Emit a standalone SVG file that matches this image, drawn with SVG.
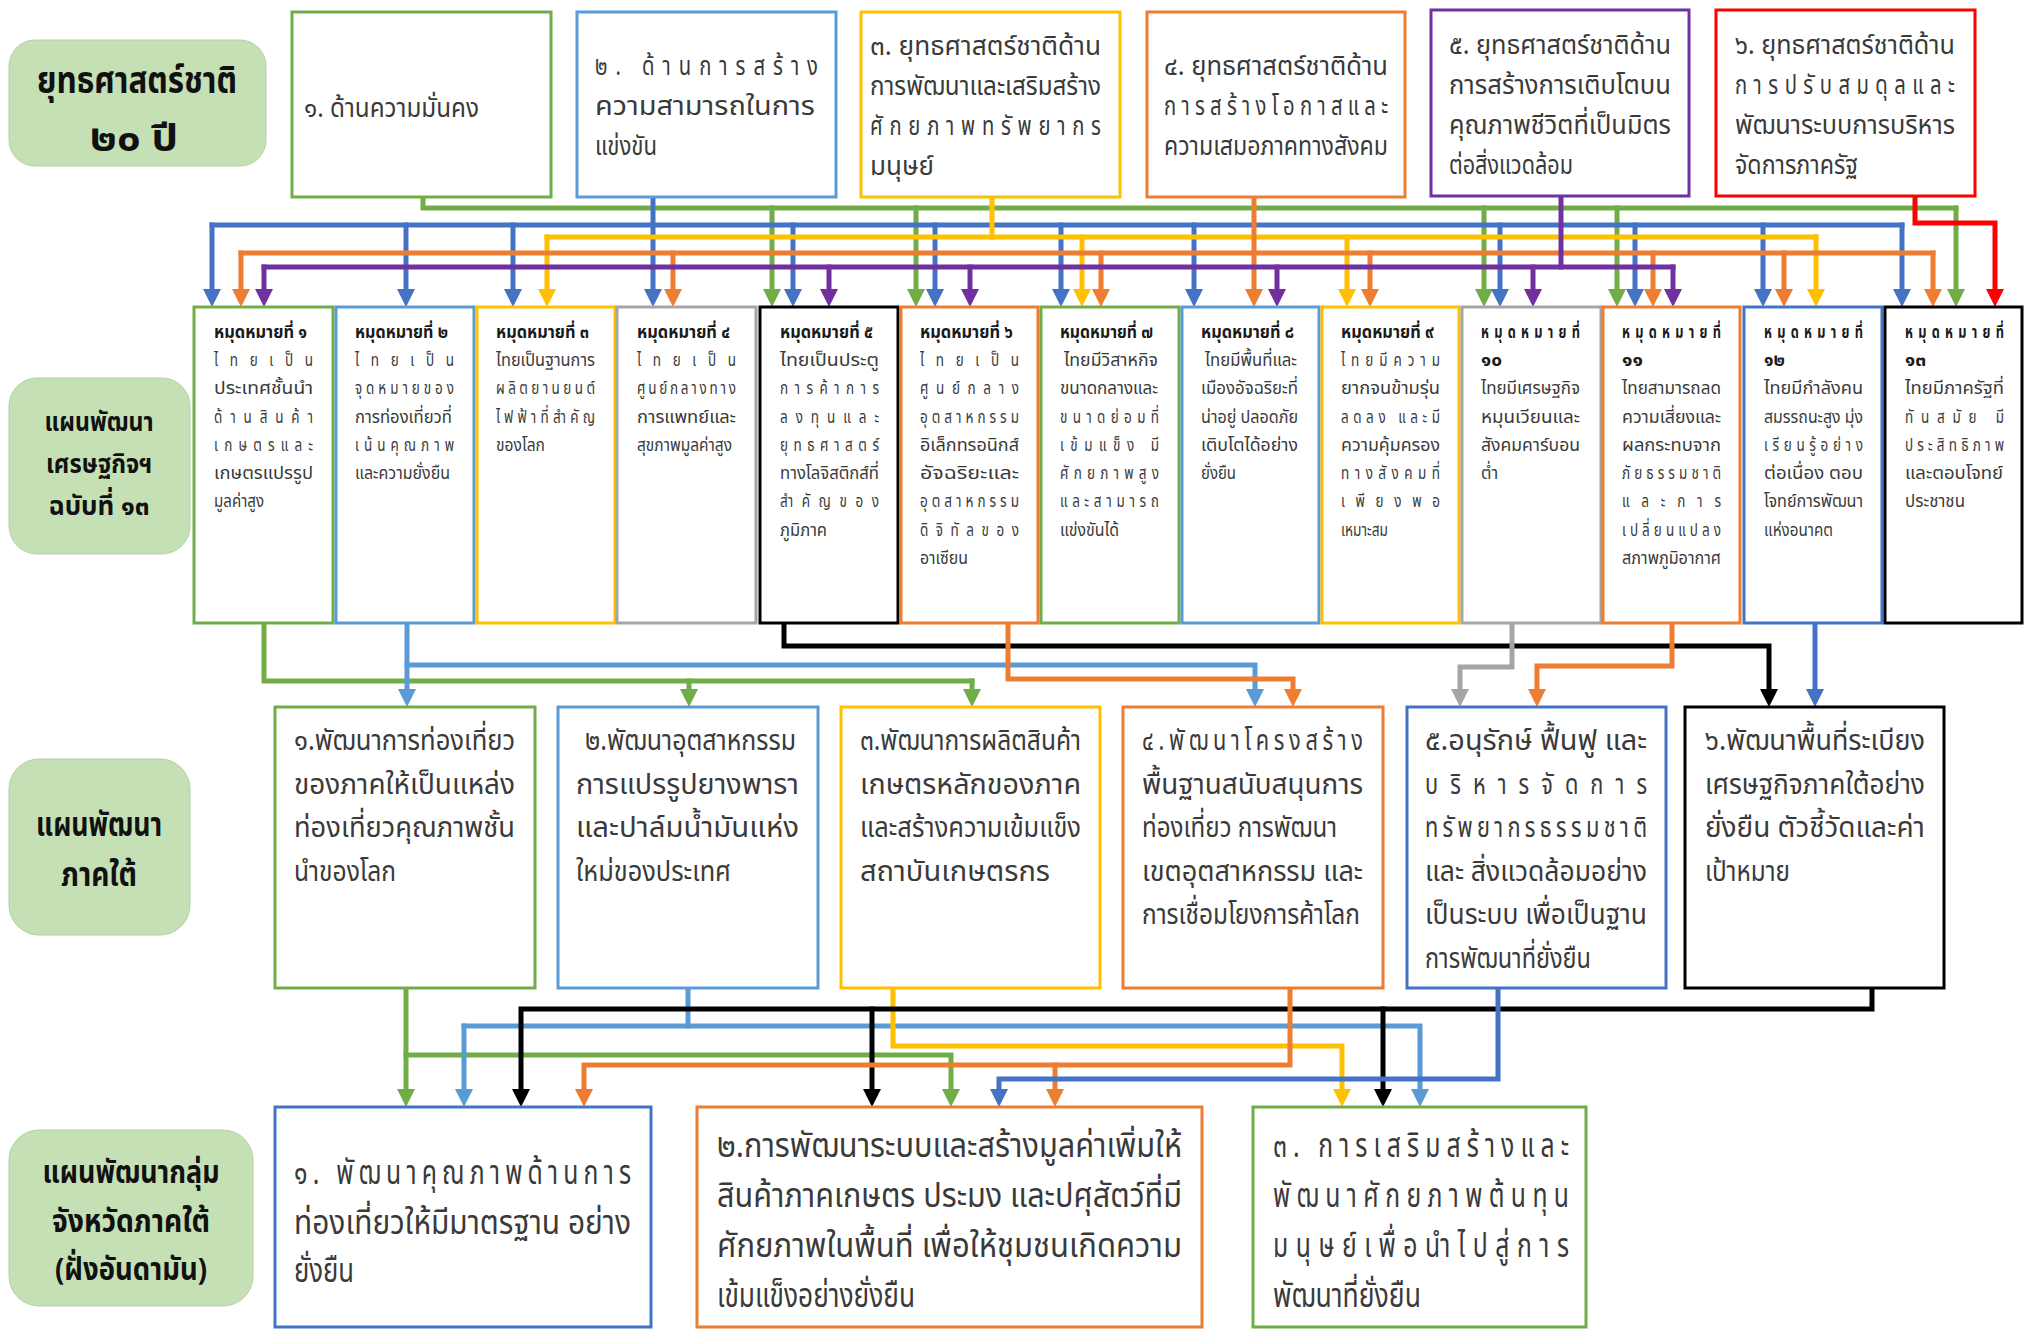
<svg xmlns="http://www.w3.org/2000/svg" width="2028" height="1329" viewBox="0 0 2028 1329">
<style>
.box{fill:#ffffff;stroke-width:3}
.lab rect{fill:#C5E0B4;stroke:#b5d0a3;stroke-width:1}
text{font-family:"Noto Sans Thai","Noto Sans Thai UI","Noto Sans","DejaVu Sans",sans-serif;fill:#3a3a3a}
.t1{font-size:27px}
.t2{font-size:18px}
.t2b{font-size:17px;font-weight:bold;fill:#1a1a1a}
.t3{font-size:29px}
.t4{font-size:33px}
.lb{font-weight:bold;fill:#111;text-anchor:middle}
#connectors path{fill:none;stroke-width:5;stroke-linecap:square}
.cg{stroke:#70AD47}.clb{stroke:#5B9BD5}.cb{stroke:#4472C4}.cy{stroke:#FFC000}.co{stroke:#ED7D31}.cp{stroke:#7030A0}.cr{stroke:#FF0000}.cgr{stroke:#A5A5A5}.ck{stroke:#000000}
</style>
<defs>
<marker id="mg" viewBox="0 0 18 18" refX="8" refY="9" markerWidth="18" markerHeight="18" markerUnits="userSpaceOnUse" orient="auto"><path d="M0,0 L18,9 L0,18 z" fill="#70AD47"/></marker>
<marker id="mlb" viewBox="0 0 18 18" refX="8" refY="9" markerWidth="18" markerHeight="18" markerUnits="userSpaceOnUse" orient="auto"><path d="M0,0 L18,9 L0,18 z" fill="#5B9BD5"/></marker>
<marker id="mb" viewBox="0 0 18 18" refX="8" refY="9" markerWidth="18" markerHeight="18" markerUnits="userSpaceOnUse" orient="auto"><path d="M0,0 L18,9 L0,18 z" fill="#4472C4"/></marker>
<marker id="my" viewBox="0 0 18 18" refX="8" refY="9" markerWidth="18" markerHeight="18" markerUnits="userSpaceOnUse" orient="auto"><path d="M0,0 L18,9 L0,18 z" fill="#FFC000"/></marker>
<marker id="mo" viewBox="0 0 18 18" refX="8" refY="9" markerWidth="18" markerHeight="18" markerUnits="userSpaceOnUse" orient="auto"><path d="M0,0 L18,9 L0,18 z" fill="#ED7D31"/></marker>
<marker id="mp" viewBox="0 0 18 18" refX="8" refY="9" markerWidth="18" markerHeight="18" markerUnits="userSpaceOnUse" orient="auto"><path d="M0,0 L18,9 L0,18 z" fill="#7030A0"/></marker>
<marker id="mr" viewBox="0 0 18 18" refX="8" refY="9" markerWidth="18" markerHeight="18" markerUnits="userSpaceOnUse" orient="auto"><path d="M0,0 L18,9 L0,18 z" fill="#FF0000"/></marker>
<marker id="mgr" viewBox="0 0 18 18" refX="8" refY="9" markerWidth="18" markerHeight="18" markerUnits="userSpaceOnUse" orient="auto"><path d="M0,0 L18,9 L0,18 z" fill="#A5A5A5"/></marker>
<marker id="mk" viewBox="0 0 18 18" refX="8" refY="9" markerWidth="18" markerHeight="18" markerUnits="userSpaceOnUse" orient="auto"><path d="M0,0 L18,9 L0,18 z" fill="#000000"/></marker>
</defs>
<rect width="2028" height="1329" fill="#ffffff"/>

<g id="connectors">
<path class="cg" d="M423,197 V208 H1956"/>
<path class="cg" marker-end="url(#mg)" d="M772,208 V297"/>
<path class="cg" marker-end="url(#mg)" d="M916,208 V297"/>
<path class="cg" marker-end="url(#mg)" d="M1484,208 V297"/>
<path class="cg" marker-end="url(#mg)" d="M1617,208 V297"/>
<path class="cg" marker-end="url(#mg)" d="M1956,208 V297"/>

<path class="cb" d="M212,225 H1902"/>
<path class="cb" marker-end="url(#mb)" d="M653,197 V297"/>
<path class="cb" marker-end="url(#mb)" d="M212,225 V297"/>
<path class="cb" marker-end="url(#mb)" d="M406,225 V297"/>
<path class="cb" marker-end="url(#mb)" d="M513,225 V297"/>
<path class="cb" marker-end="url(#mb)" d="M793,225 V297"/>
<path class="cb" marker-end="url(#mb)" d="M935,225 V297"/>
<path class="cb" marker-end="url(#mb)" d="M1061,225 V297"/>
<path class="cb" marker-end="url(#mb)" d="M1194,225 V297"/>
<path class="cb" marker-end="url(#mb)" d="M1500,225 V297"/>
<path class="cb" marker-end="url(#mb)" d="M1635,225 V297"/>
<path class="cb" marker-end="url(#mb)" d="M1763,225 V297"/>
<path class="cb" marker-end="url(#mb)" d="M1902,225 V297"/>

<path class="cy" d="M992,197 V237"/>
<path class="cy" d="M547,237 H1816"/>
<path class="cy" marker-end="url(#my)" d="M547,237 V297"/>
<path class="cy" marker-end="url(#my)" d="M1082,237 V297"/>
<path class="cy" marker-end="url(#my)" d="M1347,237 V297"/>
<path class="cy" marker-end="url(#my)" d="M1816,237 V297"/>

<path class="co" d="M241,253 H1933"/>
<path class="co" marker-end="url(#mo)" d="M1254,197 V297"/>
<path class="co" marker-end="url(#mo)" d="M241,253 V297"/>
<path class="co" marker-end="url(#mo)" d="M673,253 V297"/>
<path class="co" marker-end="url(#mo)" d="M1101,253 V297"/>
<path class="co" marker-end="url(#mo)" d="M1370,253 V297"/>
<path class="co" marker-end="url(#mo)" d="M1653,253 V297"/>
<path class="co" marker-end="url(#mo)" d="M1784,253 V297"/>
<path class="co" marker-end="url(#mo)" d="M1933,253 V297"/>

<path class="cp" d="M1561,196 V267"/>
<path class="cp" d="M264,267 H1673"/>
<path class="cp" marker-end="url(#mp)" d="M264,267 V297"/>
<path class="cp" marker-end="url(#mp)" d="M829,267 V297"/>
<path class="cp" marker-end="url(#mp)" d="M970,267 V297"/>
<path class="cp" marker-end="url(#mp)" d="M1277,267 V297"/>
<path class="cp" marker-end="url(#mp)" d="M1533,267 V297"/>
<path class="cp" marker-end="url(#mp)" d="M1673,267 V297"/>

<path class="cr" marker-end="url(#mr)" d="M1915,196 V223 H1995 V297"/>

<path class="cg" d="M264,623 V681 H972"/>
<path class="cg" marker-end="url(#mg)" d="M689,681 V697"/>
<path class="cg" marker-end="url(#mg)" d="M972,681 V697"/>
<path class="clb" marker-end="url(#mlb)" d="M407,623 V697"/>
<path class="clb" marker-end="url(#mlb)" d="M407,665 H1255 V697"/>
<path class="ck" marker-end="url(#mk)" d="M784,623 V646 H1769 V697"/>
<path class="co" marker-end="url(#mo)" d="M1008,623 V679 H1293 V697"/>
<path class="cgr" marker-end="url(#mgr)" d="M1512,623 V667 H1460 V697"/>
<path class="co" marker-end="url(#mo)" d="M1672,623 V666 H1537 V697"/>
<path class="cb" marker-end="url(#mb)" d="M1815,623 V697"/>

<path class="cg" marker-end="url(#mg)" d="M406,988 V1097"/>
<path class="cg" marker-end="url(#mg)" d="M406,1055 H951 V1097"/>
<path class="clb" d="M688,988 V1026"/>
<path class="clb" marker-end="url(#mlb)" d="M464,1026 H1420 V1097"/>
<path class="clb" marker-end="url(#mlb)" d="M464,1026 V1097"/>
<path class="cy" marker-end="url(#my)" d="M893,988 V1046 H1342 V1097"/>
<path class="ck" marker-end="url(#mk)" d="M1872,988 V1009 H521 V1097"/>
<path class="ck" marker-end="url(#mk)" d="M872,1009 V1097"/>
<path class="ck" marker-end="url(#mk)" d="M1383,1009 V1097"/>
<path class="co" marker-end="url(#mo)" d="M1290,988 V1065 H584 V1097"/>
<path class="co" marker-end="url(#mo)" d="M1055,1065 V1097"/>
<path class="cb" marker-end="url(#mb)" d="M1498,988 V1079 H999 V1097"/>
</g>

<g id="label-strategy" class="lab">
<rect x="9" y="40" width="257" height="126" rx="26"/>
<g transform="matrix(.75 0 0 1 137 0)">
<text class="lb" x="0" y="93" font-size="37" textLength="266.7" lengthAdjust="spacingAndGlyphs">ยุทธศาสตร์ชาติ</text>
<text class="lb" x="-4" y="151" font-size="37" textLength="117.3" lengthAdjust="spacingAndGlyphs">๒๐ ปี</text>
</g>
</g>
<g id="label-nesdp" class="lab">
<rect x="9" y="378" width="181" height="176" rx="28"/>
<g transform="matrix(.75 0 0 1 99 0)">
<text class="lb" x="0" y="431" font-size="27" textLength="145.3" lengthAdjust="spacingAndGlyphs">แผนพัฒนา</text>
<text class="lb" x="0" y="473" font-size="27" textLength="141.3" lengthAdjust="spacingAndGlyphs">เศรษฐกิจฯ</text>
<text class="lb" x="0" y="515" font-size="27" textLength="134.7" lengthAdjust="spacingAndGlyphs">ฉบับที่ ๑๓</text>
</g>
</g>
<g id="label-south" class="lab">
<rect x="9" y="759" width="181" height="176" rx="30"/>
<g transform="matrix(.75 0 0 1 99 0)">
<text class="lb" x="0" y="836" font-size="33" textLength="168" lengthAdjust="spacingAndGlyphs">แผนพัฒนา</text>
<text class="lb" x="0" y="886" font-size="33" textLength="101.3" lengthAdjust="spacingAndGlyphs">ภาคใต้</text>
</g>
</g>
<g id="label-andaman" class="lab">
<rect x="9" y="1130" width="244" height="176" rx="30"/>
<g transform="matrix(.75 0 0 1 131 0)">
<text class="lb" x="0" y="1183" font-size="31" textLength="236" lengthAdjust="spacingAndGlyphs">แผนพัฒนากลุ่ม</text>
<text class="lb" x="0" y="1232" font-size="31" textLength="210.7" lengthAdjust="spacingAndGlyphs">จังหวัดภาคใต้</text>
<text class="lb" x="0" y="1280" font-size="31" textLength="202.7" lengthAdjust="spacingAndGlyphs">(ฝั่งอันดามัน)</text>
</g>
</g>

<g id="ns1">
<rect class="box" x="292" y="12" width="259" height="185" stroke="#70AD47"/>
<g transform="matrix(.75 0 0 1 304 0)">
<text class="t1" x="0" y="117" textLength="233.3" lengthAdjust="spacingAndGlyphs">๑. ด้านความมั่นคง</text>
</g>
</g>
<g id="ns2">
<rect class="box" x="577" y="12" width="259" height="185" stroke="#5B9BD5"/>
<g transform="matrix(.75 0 0 1 595 0)">
<text class="t1" x="0" y="75" textLength="297.3" lengthAdjust="spacing">๒. ด้านการสร้าง</text>
<text class="t1" x="0" y="115" textLength="293.3" lengthAdjust="spacingAndGlyphs">ความสามารถในการ</text>
<text class="t1" x="0" y="155" textLength="82.7" lengthAdjust="spacingAndGlyphs">แข่งขัน</text>
</g>
</g>
<g id="ns3">
<rect class="box" x="861" y="12" width="259" height="185" stroke="#FFC000"/>
<g transform="matrix(.75 0 0 1 870 0)">
<text class="t1" x="0" y="55" textLength="308" lengthAdjust="spacingAndGlyphs">๓. ยุทธศาสตร์ชาติด้าน</text>
<text class="t1" x="0" y="95" textLength="308" lengthAdjust="spacingAndGlyphs">การพัฒนาและเสริมสร้าง</text>
<text class="t1" x="0" y="135" textLength="308" lengthAdjust="spacing">ศักยภาพทรัพยากร</text>
<text class="t1" x="0" y="175" textLength="85.3" lengthAdjust="spacingAndGlyphs">มนุษย์</text>
</g>
</g>
<g id="ns4">
<rect class="box" x="1147" y="12" width="258" height="185" stroke="#ED7D31"/>
<g transform="matrix(.75 0 0 1 1164 0)">
<text class="t1" x="0" y="75" textLength="298.7" lengthAdjust="spacingAndGlyphs">๔. ยุทธศาสตร์ชาติด้าน</text>
<text class="t1" x="0" y="115" textLength="298.7" lengthAdjust="spacing">การสร้างโอกาสและ</text>
<text class="t1" x="0" y="155" textLength="298.7" lengthAdjust="spacingAndGlyphs">ความเสมอภาคทางสังคม</text>
</g>
</g>
<g id="ns5">
<rect class="box" x="1431" y="10" width="258" height="186" stroke="#7030A0"/>
<g transform="matrix(.75 0 0 1 1449 0)">
<text class="t1" x="0" y="54" textLength="296" lengthAdjust="spacingAndGlyphs">๕. ยุทธศาสตร์ชาติด้าน</text>
<text class="t1" x="0" y="94" textLength="296" lengthAdjust="spacingAndGlyphs">การสร้างการเติบโตบน</text>
<text class="t1" x="0" y="134" textLength="296" lengthAdjust="spacingAndGlyphs">คุณภาพชีวิตที่เป็นมิตร</text>
<text class="t1" x="0" y="174" textLength="165.3" lengthAdjust="spacingAndGlyphs">ต่อสิ่งแวดล้อม</text>
</g>
</g>
<g id="ns6">
<rect class="box" x="1716" y="10" width="259" height="186" stroke="#FF0000"/>
<g transform="matrix(.75 0 0 1 1735 0)">
<text class="t1" x="0" y="54" textLength="293.3" lengthAdjust="spacingAndGlyphs">๖. ยุทธศาสตร์ชาติด้าน</text>
<text class="t1" x="0" y="94" textLength="293.3" lengthAdjust="spacing">การปรับสมดุลและ</text>
<text class="t1" x="0" y="134" textLength="293.3" lengthAdjust="spacingAndGlyphs">พัฒนาระบบการบริหาร</text>
<text class="t1" x="0" y="174" textLength="164" lengthAdjust="spacingAndGlyphs">จัดการภาครัฐ</text>
</g>
</g>

<g id="m1">
<rect class="box" x="194" y="307" width="139" height="316" stroke="#70AD47"/>
<g transform="matrix(.75 0 0 1 214 0)">
<text class="t2b" x="0" y="338" textLength="124" lengthAdjust="spacingAndGlyphs">หมุดหมายที่ ๑</text>
<text class="t2" x="0" y="366" textLength="132" lengthAdjust="spacing">ไทยเป็น</text>
<text class="t2" x="0" y="394" textLength="132" lengthAdjust="spacingAndGlyphs">ประเทศชั้นนำ</text>
<text class="t2" x="0" y="423" textLength="132" lengthAdjust="spacing">ด้านสินค้า</text>
<text class="t2" x="0" y="451" textLength="132" lengthAdjust="spacing">เกษตรและ</text>
<text class="t2" x="0" y="479" textLength="132" lengthAdjust="spacingAndGlyphs">เกษตรแปรรูป</text>
<text class="t2" x="0" y="507" textLength="66.7" lengthAdjust="spacingAndGlyphs">มูลค่าสูง</text>
</g>
</g>
<g id="m2">
<rect class="box" x="336" y="307" width="138" height="316" stroke="#5B9BD5"/>
<g transform="matrix(.75 0 0 1 355 0)">
<text class="t2b" x="0" y="338" textLength="124" lengthAdjust="spacingAndGlyphs">หมุดหมายที่ ๒</text>
<text class="t2" x="0" y="366" textLength="132" lengthAdjust="spacing">ไทยเป็น</text>
<text class="t2" x="0" y="394" textLength="132" lengthAdjust="spacing">จุดหมายของ</text>
<text class="t2" x="0" y="423" textLength="129.3" lengthAdjust="spacingAndGlyphs">การท่องเที่ยวที่</text>
<text class="t2" x="0" y="451" textLength="132" lengthAdjust="spacing">เน้นคุณภาพ</text>
<text class="t2" x="0" y="479" textLength="126.7" lengthAdjust="spacingAndGlyphs">และความยั่งยืน</text>
</g>
</g>
<g id="m3">
<rect class="box" x="477" y="307" width="138" height="316" stroke="#FFC000"/>
<g transform="matrix(.75 0 0 1 496 0)">
<text class="t2b" x="0" y="338" textLength="124" lengthAdjust="spacingAndGlyphs">หมุดหมายที่ ๓</text>
<text class="t2" x="0" y="366" textLength="132" lengthAdjust="spacingAndGlyphs">ไทยเป็นฐานการ</text>
<text class="t2" x="0" y="394" textLength="132" lengthAdjust="spacing">ผลิตยานยนต์</text>
<text class="t2" x="0" y="423" textLength="132" lengthAdjust="spacing">ไฟฟ้าที่สำคัญ</text>
<text class="t2" x="0" y="451" textLength="65.3" lengthAdjust="spacingAndGlyphs">ของโลก</text>
</g>
</g>
<g id="m4">
<rect class="box" x="617" y="307" width="139" height="316" stroke="#A5A5A5"/>
<g transform="matrix(.75 0 0 1 637 0)">
<text class="t2b" x="0" y="338" textLength="124" lengthAdjust="spacingAndGlyphs">หมุดหมายที่ ๔</text>
<text class="t2" x="0" y="366" textLength="132" lengthAdjust="spacing">ไทยเป็น</text>
<text class="t2" x="0" y="394" textLength="132" lengthAdjust="spacing">ศูนย์กลางทาง</text>
<text class="t2" x="0" y="423" textLength="132" lengthAdjust="spacingAndGlyphs">การแพทย์และ</text>
<text class="t2" x="0" y="451" textLength="126.7" lengthAdjust="spacingAndGlyphs">สุขภาพมูลค่าสูง</text>
</g>
</g>
<g id="m5">
<rect class="box" x="760" y="307" width="138" height="316" stroke="#000000" stroke-width="3.5"/>
<g transform="matrix(.75 0 0 1 780 0)">
<text class="t2b" x="0" y="338" textLength="124" lengthAdjust="spacingAndGlyphs">หมุดหมายที่ ๕</text>
<text class="t2" x="0" y="366" textLength="132" lengthAdjust="spacingAndGlyphs">ไทยเป็นประตู</text>
<text class="t2" x="0" y="394" textLength="132" lengthAdjust="spacing">การค้าการ</text>
<text class="t2" x="0" y="423" textLength="132" lengthAdjust="spacing">ลงทุนและ</text>
<text class="t2" x="0" y="451" textLength="132" lengthAdjust="spacing">ยุทธศาสตร์</text>
<text class="t2" x="0" y="479" textLength="132" lengthAdjust="spacingAndGlyphs">ทางโลจิสติกส์ที่</text>
<text class="t2" x="0" y="507" textLength="132" lengthAdjust="spacing">สำคัญของ</text>
<text class="t2" x="0" y="536" textLength="62.7" lengthAdjust="spacingAndGlyphs">ภูมิภาค</text>
</g>
</g>
<g id="m6">
<rect class="box" x="901" y="307" width="137" height="316" stroke="#ED7D31"/>
<g transform="matrix(.75 0 0 1 920 0)">
<text class="t2b" x="0" y="338" textLength="124" lengthAdjust="spacingAndGlyphs">หมุดหมายที่ ๖</text>
<text class="t2" x="0" y="366" textLength="132" lengthAdjust="spacing">ไทยเป็น</text>
<text class="t2" x="0" y="394" textLength="132" lengthAdjust="spacing">ศูนย์กลาง</text>
<text class="t2" x="0" y="423" textLength="132" lengthAdjust="spacing">อุตสาหกรรม</text>
<text class="t2" x="0" y="451" textLength="132" lengthAdjust="spacingAndGlyphs">อิเล็กทรอนิกส์</text>
<text class="t2" x="0" y="479" textLength="132" lengthAdjust="spacingAndGlyphs">อัจฉริยะและ</text>
<text class="t2" x="0" y="507" textLength="132" lengthAdjust="spacing">อุตสาหกรรม</text>
<text class="t2" x="0" y="536" textLength="132" lengthAdjust="spacing">ดิจิทัลของ</text>
<text class="t2" x="0" y="564" textLength="64" lengthAdjust="spacingAndGlyphs">อาเซียน</text>
</g>
</g>
<g id="m7">
<rect class="box" x="1041" y="307" width="138" height="316" stroke="#70AD47"/>
<g transform="matrix(.75 0 0 1 1060 0)">
<text class="t2b" x="0" y="338" textLength="124" lengthAdjust="spacingAndGlyphs">หมุดหมายที่ ๗</text>
<text class="t2" x="5.3" y="366" textLength="125.3" lengthAdjust="spacingAndGlyphs">ไทยมีวิสาหกิจ</text>
<text class="t2" x="0" y="394" textLength="130.7" lengthAdjust="spacingAndGlyphs">ขนาดกลางและ</text>
<text class="t2" x="0" y="423" textLength="132" lengthAdjust="spacing">ขนาดย่อมที่</text>
<text class="t2" x="0" y="451" textLength="132" lengthAdjust="spacing">เข้มแข็ง มี</text>
<text class="t2" x="0" y="479" textLength="132" lengthAdjust="spacing">ศักยภาพสูง</text>
<text class="t2" x="0" y="507" textLength="132" lengthAdjust="spacing">และสามารถ</text>
<text class="t2" x="0" y="536" textLength="78.7" lengthAdjust="spacingAndGlyphs">แข่งขันได้</text>
</g>
</g>
<g id="m8">
<rect class="box" x="1182" y="307" width="137" height="316" stroke="#5B9BD5"/>
<g transform="matrix(.75 0 0 1 1201 0)">
<text class="t2b" x="0" y="338" textLength="124" lengthAdjust="spacingAndGlyphs">หมุดหมายที่ ๘</text>
<text class="t2" x="5.3" y="366" textLength="122.7" lengthAdjust="spacingAndGlyphs">ไทยมีพื้นที่และ</text>
<text class="t2" x="0" y="394" textLength="129.3" lengthAdjust="spacingAndGlyphs">เมืองอัจฉริยะที่</text>
<text class="t2" x="0" y="423" textLength="129.3" lengthAdjust="spacingAndGlyphs">น่าอยู่ ปลอดภัย</text>
<text class="t2" x="0" y="451" textLength="129.3" lengthAdjust="spacingAndGlyphs">เติบโตได้อย่าง</text>
<text class="t2" x="0" y="479" textLength="46.7" lengthAdjust="spacingAndGlyphs">ยั่งยืน</text>
</g>
</g>
<g id="m9">
<rect class="box" x="1322" y="307" width="137" height="316" stroke="#FFC000"/>
<g transform="matrix(.75 0 0 1 1341 0)">
<text class="t2b" x="0" y="338" textLength="124" lengthAdjust="spacingAndGlyphs">หมุดหมายที่ ๙</text>
<text class="t2" x="0" y="366" textLength="132" lengthAdjust="spacing">ไทยมีความ</text>
<text class="t2" x="0" y="394" textLength="132" lengthAdjust="spacingAndGlyphs">ยากจนข้ามรุ่น</text>
<text class="t2" x="0" y="423" textLength="132" lengthAdjust="spacing">ลดลง และมี</text>
<text class="t2" x="0" y="451" textLength="132" lengthAdjust="spacingAndGlyphs">ความคุ้มครอง</text>
<text class="t2" x="0" y="479" textLength="132" lengthAdjust="spacing">ทางสังคมที่</text>
<text class="t2" x="0" y="507" textLength="132" lengthAdjust="spacing">เพียงพอ</text>
<text class="t2" x="0" y="536" textLength="62.7" lengthAdjust="spacingAndGlyphs">เหมาะสม</text>
</g>
</g>
<g id="m10">
<rect class="box" x="1462" y="307" width="139" height="316" stroke="#A5A5A5"/>
<g transform="matrix(.75 0 0 1 1481 0)">
<text class="t2b" x="0" y="338" textLength="132" lengthAdjust="spacing">หมุดหมายที่</text>
<text class="t2b" x="0" y="366" textLength="28" lengthAdjust="spacingAndGlyphs">๑๐</text>
<text class="t2" x="0" y="394" textLength="132" lengthAdjust="spacingAndGlyphs">ไทยมีเศรษฐกิจ</text>
<text class="t2" x="0" y="423" textLength="132" lengthAdjust="spacingAndGlyphs">หมุนเวียนและ</text>
<text class="t2" x="0" y="451" textLength="132" lengthAdjust="spacingAndGlyphs">สังคมคาร์บอน</text>
<text class="t2" x="0" y="479" textLength="22.7" lengthAdjust="spacingAndGlyphs">ต่ำ</text>
</g>
</g>
<g id="m11">
<rect class="box" x="1603" y="307" width="137" height="316" stroke="#ED7D31"/>
<g transform="matrix(.75 0 0 1 1622 0)">
<text class="t2b" x="0" y="338" textLength="132" lengthAdjust="spacing">หมุดหมายที่</text>
<text class="t2b" x="0" y="366" textLength="28" lengthAdjust="spacingAndGlyphs">๑๑</text>
<text class="t2" x="0" y="394" textLength="132" lengthAdjust="spacingAndGlyphs">ไทยสามารถลด</text>
<text class="t2" x="0" y="423" textLength="132" lengthAdjust="spacingAndGlyphs">ความเสี่ยงและ</text>
<text class="t2" x="0" y="451" textLength="132" lengthAdjust="spacingAndGlyphs">ผลกระทบจาก</text>
<text class="t2" x="0" y="479" textLength="132" lengthAdjust="spacing">ภัยธรรมชาติ</text>
<text class="t2" x="0" y="507" textLength="132" lengthAdjust="spacing">และการ</text>
<text class="t2" x="0" y="536" textLength="132" lengthAdjust="spacing">เปลี่ยนแปลง</text>
<text class="t2" x="0" y="564" textLength="132" lengthAdjust="spacingAndGlyphs">สภาพภูมิอากาศ</text>
</g>
</g>
<g id="m12">
<rect class="box" x="1744" y="307" width="138" height="316" stroke="#4472C4"/>
<g transform="matrix(.75 0 0 1 1764 0)">
<text class="t2b" x="0" y="338" textLength="132" lengthAdjust="spacing">หมุดหมายที่</text>
<text class="t2b" x="0" y="366" textLength="28" lengthAdjust="spacingAndGlyphs">๑๒</text>
<text class="t2" x="0" y="394" textLength="132" lengthAdjust="spacingAndGlyphs">ไทยมีกำลังคน</text>
<text class="t2" x="0" y="423" textLength="132" lengthAdjust="spacingAndGlyphs">สมรรถนะสูง มุ่ง</text>
<text class="t2" x="0" y="451" textLength="132" lengthAdjust="spacing">เรียนรู้อย่าง</text>
<text class="t2" x="0" y="479" textLength="132" lengthAdjust="spacingAndGlyphs">ต่อเนื่อง ตอบ</text>
<text class="t2" x="0" y="507" textLength="132" lengthAdjust="spacingAndGlyphs">โจทย์การพัฒนา</text>
<text class="t2" x="0" y="536" textLength="92" lengthAdjust="spacingAndGlyphs">แห่งอนาคต</text>
</g>
</g>
<g id="m13">
<rect class="box" x="1885" y="307" width="137" height="316" stroke="#000000" stroke-width="3.5"/>
<g transform="matrix(.75 0 0 1 1905 0)">
<text class="t2b" x="0" y="338" textLength="132" lengthAdjust="spacing">หมุดหมายที่</text>
<text class="t2b" x="0" y="366" textLength="28" lengthAdjust="spacingAndGlyphs">๑๓</text>
<text class="t2" x="0" y="394" textLength="132" lengthAdjust="spacingAndGlyphs">ไทยมีภาครัฐที่</text>
<text class="t2" x="0" y="423" textLength="132" lengthAdjust="spacing">ทันสมัย มี</text>
<text class="t2" x="0" y="451" textLength="132" lengthAdjust="spacing">ประสิทธิภาพ</text>
<text class="t2" x="0" y="479" textLength="130.7" lengthAdjust="spacingAndGlyphs">และตอบโจทย์</text>
<text class="t2" x="0" y="507" textLength="80" lengthAdjust="spacingAndGlyphs">ประชาชน</text>
</g>
</g>

<g id="s1">
<rect class="box" x="275" y="707" width="260" height="281" stroke="#70AD47"/>
<g transform="matrix(.75 0 0 1 294 0)">
<text class="t3" x="0" y="750" textLength="294.7" lengthAdjust="spacingAndGlyphs">๑.พัฒนาการท่องเที่ยว</text>
<text class="t3" x="0" y="794" textLength="294.7" lengthAdjust="spacingAndGlyphs">ของภาคให้เป็นแหล่ง</text>
<text class="t3" x="0" y="837" textLength="294.7" lengthAdjust="spacingAndGlyphs">ท่องเที่ยวคุณภาพชั้น</text>
<text class="t3" x="0" y="881" textLength="136" lengthAdjust="spacingAndGlyphs">นำของโลก</text>
</g>
</g>
<g id="s2">
<rect class="box" x="558" y="707" width="260" height="281" stroke="#5B9BD5"/>
<g transform="matrix(.75 0 0 1 576 0)">
<text class="t3" x="12" y="750" textLength="281.3" lengthAdjust="spacingAndGlyphs">๒.พัฒนาอุตสาหกรรม</text>
<text class="t3" x="0" y="794" textLength="297.3" lengthAdjust="spacingAndGlyphs">การแปรรูปยางพารา</text>
<text class="t3" x="0" y="837" textLength="297.3" lengthAdjust="spacingAndGlyphs">และปาล์มน้ำมันแห่ง</text>
<text class="t3" x="0" y="881" textLength="206.7" lengthAdjust="spacingAndGlyphs">ใหม่ของประเทศ</text>
</g>
</g>
<g id="s3">
<rect class="box" x="841" y="707" width="259" height="281" stroke="#FFC000"/>
<g transform="matrix(.75 0 0 1 860 0)">
<text class="t3" x="0" y="750" textLength="294.7" lengthAdjust="spacingAndGlyphs">๓.พัฒนาการผลิตสินค้า</text>
<text class="t3" x="0" y="794" textLength="294.7" lengthAdjust="spacingAndGlyphs">เกษตรหลักของภาค</text>
<text class="t3" x="0" y="837" textLength="294.7" lengthAdjust="spacingAndGlyphs">และสร้างความเข้มแข็ง</text>
<text class="t3" x="0" y="881" textLength="253.3" lengthAdjust="spacingAndGlyphs">สถาบันเกษตรกร</text>
</g>
</g>
<g id="s4">
<rect class="box" x="1123" y="707" width="260" height="281" stroke="#ED7D31"/>
<g transform="matrix(.75 0 0 1 1142 0)">
<text class="t3" x="0" y="750" textLength="294.7" lengthAdjust="spacing">๔.พัฒนาโครงสร้าง</text>
<text class="t3" x="0" y="794" textLength="294.7" lengthAdjust="spacingAndGlyphs">พื้นฐานสนับสนุนการ</text>
<text class="t3" x="0" y="837" textLength="260" lengthAdjust="spacingAndGlyphs">ท่องเที่ยว การพัฒนา</text>
<text class="t3" x="0" y="881" textLength="294.7" lengthAdjust="spacingAndGlyphs">เขตอุตสาหกรรม และ</text>
<text class="t3" x="0" y="924" textLength="290.7" lengthAdjust="spacingAndGlyphs">การเชื่อมโยงการค้าโลก</text>
</g>
</g>
<g id="s5">
<rect class="box" x="1407" y="707" width="259" height="281" stroke="#4472C4"/>
<g transform="matrix(.75 0 0 1 1425 0)">
<text class="t3" x="0" y="750" textLength="296" lengthAdjust="spacingAndGlyphs">๕.อนุรักษ์ ฟื้นฟู และ</text>
<text class="t3" x="0" y="794" textLength="296" lengthAdjust="spacing">บริหารจัดการ</text>
<text class="t3" x="0" y="837" textLength="296" lengthAdjust="spacing">ทรัพยากรธรรมชาติ</text>
<text class="t3" x="0" y="881" textLength="296" lengthAdjust="spacingAndGlyphs">และ สิ่งแวดล้อมอย่าง</text>
<text class="t3" x="0" y="924" textLength="296" lengthAdjust="spacingAndGlyphs">เป็นระบบ เพื่อเป็นฐาน</text>
<text class="t3" x="0" y="968" textLength="221.3" lengthAdjust="spacingAndGlyphs">การพัฒนาที่ยั่งยืน</text>
</g>
</g>
<g id="s6">
<rect class="box" x="1685" y="707" width="259" height="281" stroke="#000000"/>
<g transform="matrix(.75 0 0 1 1705 0)">
<text class="t3" x="0" y="750" textLength="293.3" lengthAdjust="spacingAndGlyphs">๖.พัฒนาพื้นที่ระเบียง</text>
<text class="t3" x="0" y="794" textLength="293.3" lengthAdjust="spacingAndGlyphs">เศรษฐกิจภาคใต้อย่าง</text>
<text class="t3" x="0" y="837" textLength="293.3" lengthAdjust="spacingAndGlyphs">ยั่งยืน ตัวชี้วัดและค่า</text>
<text class="t3" x="0" y="881" textLength="113.3" lengthAdjust="spacingAndGlyphs">เป้าหมาย</text>
</g>
</g>

<g id="a1">
<rect class="box" x="275" y="1107" width="376" height="220" stroke="#4472C4"/>
<g transform="matrix(.75 0 0 1 294 0)">
<text class="t4" x="0" y="1184" textLength="449.3" lengthAdjust="spacing">๑. พัฒนาคุณภาพด้านการ</text>
<text class="t4" x="0" y="1234" textLength="449.3" lengthAdjust="spacingAndGlyphs">ท่องเที่ยวให้มีมาตรฐาน อย่าง</text>
<text class="t4" x="0" y="1282" textLength="80" lengthAdjust="spacingAndGlyphs">ยั่งยืน</text>
</g>
</g>
<g id="a2">
<rect class="box" x="697" y="1107" width="505" height="220" stroke="#ED7D31"/>
<g transform="matrix(.75 0 0 1 717 0)">
<text class="t4" x="0" y="1157" textLength="620" lengthAdjust="spacingAndGlyphs">๒.การพัฒนาระบบและสร้างมูลค่าเพิ่มให้</text>
<text class="t4" x="0" y="1207" textLength="620" lengthAdjust="spacingAndGlyphs">สินค้าภาคเกษตร ประมง และปศุสัตว์ที่มี</text>
<text class="t4" x="0" y="1257" textLength="620" lengthAdjust="spacingAndGlyphs">ศักยภาพในพื้นที่ เพื่อให้ชุมชนเกิดความ</text>
<text class="t4" x="0" y="1307" textLength="264" lengthAdjust="spacingAndGlyphs">เข้มแข็งอย่างยั่งยืน</text>
</g>
</g>
<g id="a3">
<rect class="box" x="1253" y="1107" width="333" height="220" stroke="#70AD47"/>
<g transform="matrix(.75 0 0 1 1273 0)">
<text class="t4" x="0" y="1157" textLength="394.7" lengthAdjust="spacing">๓. การเสริมสร้างและ</text>
<text class="t4" x="0" y="1207" textLength="394.7" lengthAdjust="spacing">พัฒนาศักยภาพต้นทุน</text>
<text class="t4" x="0" y="1257" textLength="394.7" lengthAdjust="spacing">มนุษย์เพื่อนำไปสู่การ</text>
<text class="t4" x="0" y="1307" textLength="197.3" lengthAdjust="spacingAndGlyphs">พัฒนาที่ยั่งยืน</text>
</g>
</g>
</svg>
